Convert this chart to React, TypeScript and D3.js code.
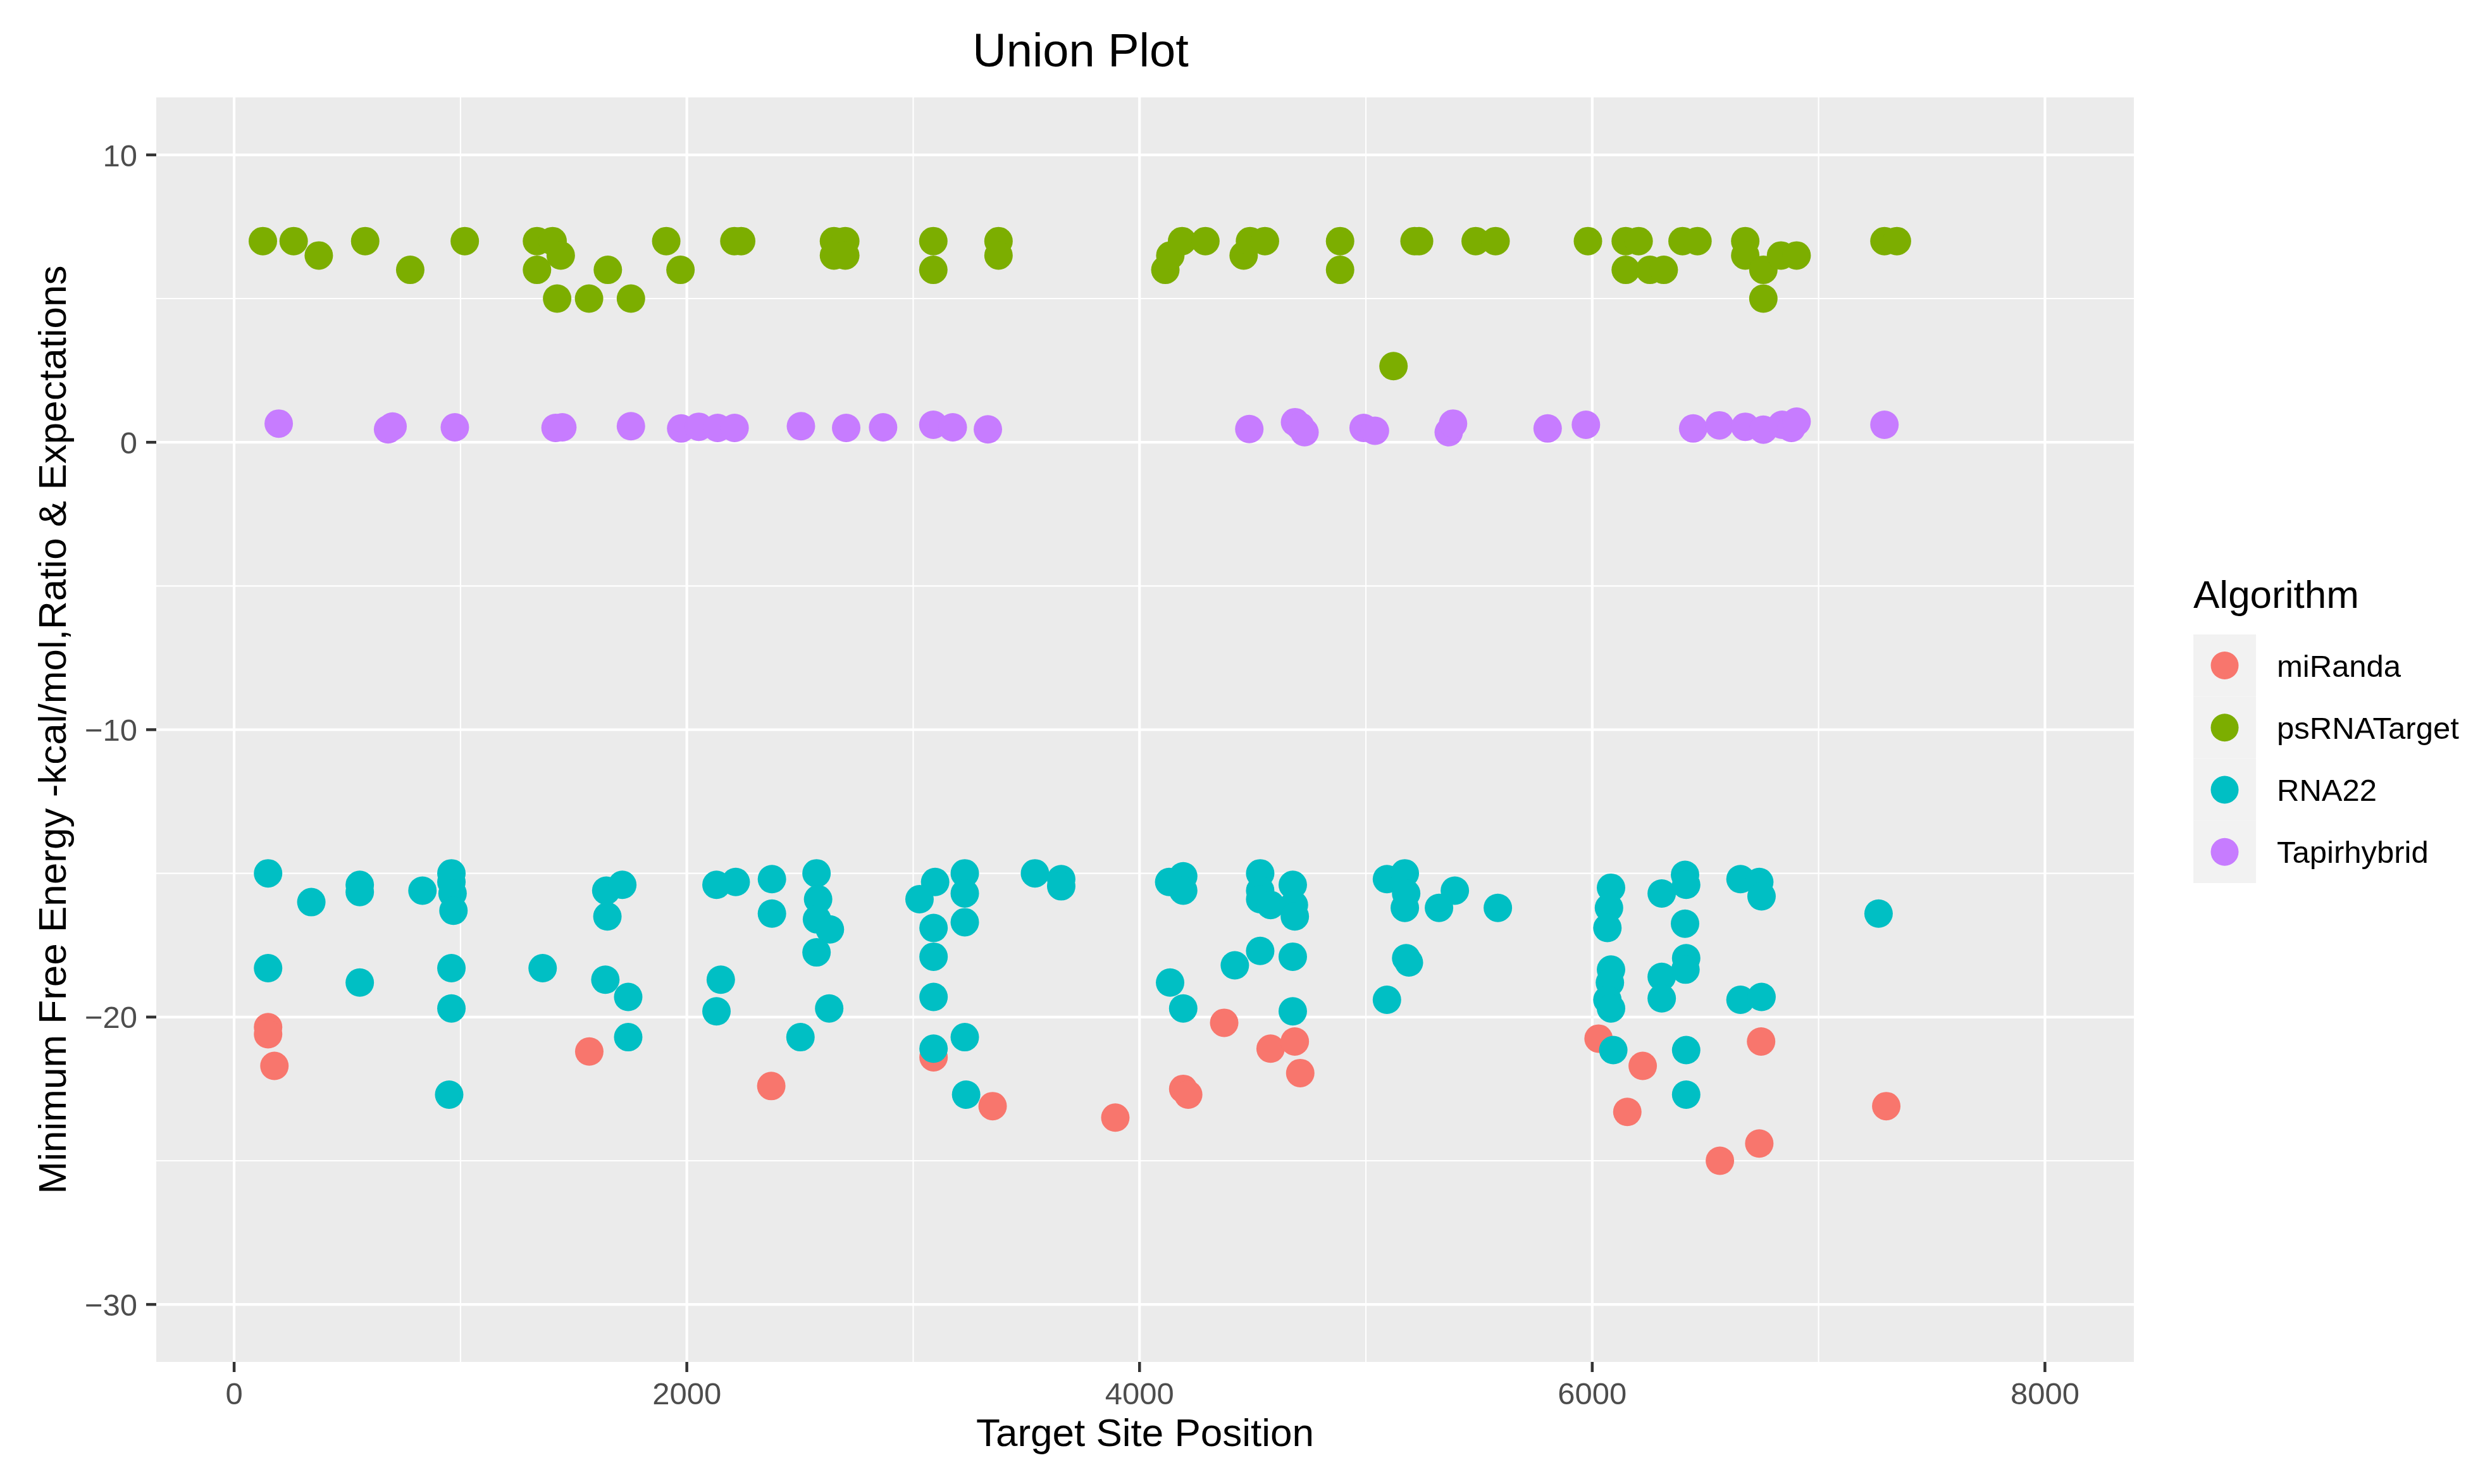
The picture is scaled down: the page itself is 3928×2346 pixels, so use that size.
import React from "react";
import * as d3 from "d3";

const categories = ["miRanda", "psRNATarget", "RNA22", "Tapirhybrid"];
const colors = ["#F8766D", "#7CAE00", "#00BFC4", "#C77CFF"];

const miRandaPos = [150, 150, 178, 1569, 2373, 3090, 3351, 3893, 4374, 4193, 4215, 4579, 4686, 4710, 6028, 6223, 6155, 6746, 6738, 6564, 7299];
const miRandaVal = [-20.35, -20.6, -21.7, -21.2, -22.4, -21.4, -23.1, -23.5, -20.2, -22.5, -22.7, -21.1, -20.85, -21.95, -20.75, -21.7, -23.3, -20.85, -24.4, -25.0, -23.1];

const psPos = [127, 263, 374, 579, 778, 1019, 1338, 1407, 1443, 1338, 1427, 1568, 1651, 1753, 1909, 1972, 2210, 2240, 2650, 2700, 2650, 2700, 3089, 3089, 3377, 3377, 4114, 4136, 4188, 4291, 4460, 4488, 4554, 4886, 4886, 5122, 5215, 5235, 5485, 5573, 5981, 6148, 6205, 6148, 6255, 6316, 6399, 6465, 6676, 6676, 6756, 6756, 6834, 6903, 7291, 7346];
const psVal = [7, 7, 6.5, 7, 6, 7, 7, 7, 6.5, 6, 5, 5, 6, 5, 7, 6, 7, 7, 7, 7, 6.5, 6.5, 7, 6, 7, 6.5, 6, 6.5, 7, 7, 6.5, 7, 7, 7, 6, 2.65, 7, 7, 7, 7, 7, 7, 7, 6, 6, 6, 7, 7, 7, 6.5, 6, 5, 6.5, 6.5, 7, 7];

const rnaPos = [150, 341, 555, 555, 832, 960, 960, 965, 969, 1644, 1715, 1649, 2131, 2216, 2376, 2376, 2573, 2580, 2575, 2632, 2573,
  150, 555, 960, 1363, 1640, 1741, 2150, 2131, 2629, 960, 1741, 2502, 950,
  3097, 3028, 3228, 3228, 3090, 3228, 3090, 3090, 3538, 3654, 3654, 4131, 4193, 4193, 4533, 4533, 4533, 4579, 4677, 4682, 4686, 4421, 4533, 4677, 4135, 4193, 4677, 3090, 3228, 3234, 5093, 5172, 5178, 5172, 5393, 5323, 5583, 5178, 5190, 5093,
  6083, 6074, 6067, 6307, 6410, 6415, 6410, 6655, 6738, 6748, 7265, 6083, 6078, 6067, 6083, 6307, 6307, 6415, 6412, 6655, 6748, 6093, 6415, 6415];
const rnaVal = [-15, -16.0, -15.4, -15.65, -15.6, -15, -15.3, -15.7, -16.3, -15.6, -15.4, -16.5, -15.4, -15.3, -15.2, -16.4, -15, -15.9, -16.6, -16.95, -17.75,
  -18.3, -18.8, -18.3, -18.3, -18.7, -19.3, -18.7, -19.8, -19.7, -19.7, -20.7, -20.7, -22.7,
  -15.3, -15.9, -15, -15.7, -16.9, -16.7, -17.9, -19.3, -15, -15.2, -15.45, -15.3, -15.1, -15.6, -15, -15.6, -15.9, -16.1, -15.4, -16.1, -16.5, -18.2, -17.7, -17.9, -18.8, -19.7, -19.8, -21.1, -20.7, -22.7, -15.2, -15, -15.7, -16.2, -15.6, -16.2, -16.2, -17.95, -18.1, -19.4,
  -15.5, -16.2, -16.9, -15.7, -15.05, -15.4, -16.75, -15.2, -15.3, -15.8, -16.4, -18.35, -18.8, -19.4, -19.7, -18.6, -19.35, -17.95, -18.35, -19.4, -19.3, -21.15, -21.15, -22.7];

const tapirPos = [197, 680, 700, 975, 1420, 1450, 1753, 1975, 2053, 2136, 2211, 2504, 2704, 2867, 3089, 3175, 3330, 4485, 4687, 4710, 4729, 4990, 5040, 5366, 5385, 5803, 5972, 6446, 6562, 6676, 6756, 6839, 6880, 6903, 7291];
const tapirVal = [0.65, 0.45, 0.55, 0.52, 0.5, 0.52, 0.56, 0.48, 0.54, 0.5, 0.5, 0.56, 0.5, 0.52, 0.61, 0.52, 0.45, 0.46, 0.7, 0.55, 0.35, 0.5, 0.4, 0.35, 0.65, 0.48, 0.61, 0.48, 0.59, 0.54, 0.44, 0.61, 0.5, 0.72, 0.61];

const xTicks = [0, 2000, 4000, 6000, 8000];
const xMinor = [1000, 3000, 5000, 7000];
const yTicks = [10, 0, -10, -20, -30];
const yMinor = [5, -5, -15, -25];

const titleText = "Union Plot";
const xTitle = "Target Site Position";
const yTitle = "Minimum Free Energy -kcal/mol,Ratio & Expectations";
const legendTitle = "Algorithm";

export default function App() {
  const W = 3928, H = 2346;
  const pL = 247, pR = 3373, pT = 154, pB = 2153;
  const x = d3.scaleLinear().domain([-344, 8393]).range([pL, pR]);
  const y = d3.scaleLinear().domain([-32, 12]).range([pB, pT]);
  const font = "Arial, 'Liberation Sans', Helvetica, sans-serif";
  const fmt = (v: number) => (v < 0 ? "\u2212" + Math.abs(v) : String(v));

  const series = [
    { pos: miRandaPos, val: miRandaVal, c: colors[0] },
    { pos: psPos, val: psVal, c: colors[1] },
    { pos: rnaPos, val: rnaVal, c: colors[2] },
    { pos: tapirPos, val: tapirVal, c: colors[3] },
  ];

  return (
    <svg width={W} height={H} style={{ position: "absolute", left: 0, top: 0, background: "#fff" }} fontFamily={font}>
      <rect x={0} y={0} width={W} height={H} fill="#fff" />
      <rect x={pL} y={pT} width={pR - pL} height={pB - pT} fill="#EBEBEB" />
      {yMinor.map((t) => (
        <line key={"ym" + t} x1={pL} x2={pR} y1={y(t)} y2={y(t)} stroke="#fff" strokeWidth={2.1} />
      ))}
      {xMinor.map((t) => (
        <line key={"xm" + t} x1={x(t)} x2={x(t)} y1={pT} y2={pB} stroke="#fff" strokeWidth={2.1} />
      ))}
      {yTicks.map((t) => (
        <line key={"yg" + t} x1={pL} x2={pR} y1={y(t)} y2={y(t)} stroke="#fff" strokeWidth={4.2} />
      ))}
      {xTicks.map((t) => (
        <line key={"xg" + t} x1={x(t)} x2={x(t)} y1={pT} y2={pB} stroke="#fff" strokeWidth={4.2} />
      ))}
      {series.map((s, si) => (
        <g key={"s" + si}>
          {s.pos.map((p, i) => (
            <circle key={i} cx={x(p)} cy={y(s.val[i])} r={22.5} fill={s.c} />
          ))}
        </g>
      ))}
      {yTicks.map((t) => (
        <g key={"yt" + t}>
          <line x1={pL - 16} x2={pL} y1={y(t)} y2={y(t)} stroke="#333333" strokeWidth={4.5} />
          <text x={pL - 30} y={y(t)} dy="0.36em" textAnchor="end" fontSize={49} fill="#4D4D4D">{fmt(t)}</text>
        </g>
      ))}
      {xTicks.map((t) => (
        <g key={"xt" + t}>
          <line x1={x(t)} x2={x(t)} y1={pB} y2={pB + 16} stroke="#333333" strokeWidth={4.5} />
          <text x={x(t)} y={2220} textAnchor="middle" fontSize={49} fill="#4D4D4D">{fmt(t)}</text>
        </g>
      ))}
      <text x={1708} y={105} textAnchor="middle" fontSize={74} fill="#000">{titleText}</text>
      <text x={(pL + pR) / 2} y={2286} textAnchor="middle" fontSize={62} fill="#000">{xTitle}</text>
      <text transform={`translate(104, ${(pT + pB) / 2}) rotate(-90)`} textAnchor="middle" fontSize={62} fill="#000">{yTitle}</text>
      <text x={3467} y={961} fontSize={62} fill="#000">{legendTitle}</text>
      {categories.map((c, i) => (
        <g key={"lg" + c}>
          <rect x={3467} y={1003 + i * 98.25} width={99} height={98.25} fill="#F2F2F2" />
          <circle cx={3516.5} cy={1052 + i * 98.25} r={22} fill={colors[i]} />
          <text x={3599} y={1052 + i * 98.25} dy="0.36em" fontSize={49} fill="#000">{c}</text>
        </g>
      ))}
    </svg>
  );
}
